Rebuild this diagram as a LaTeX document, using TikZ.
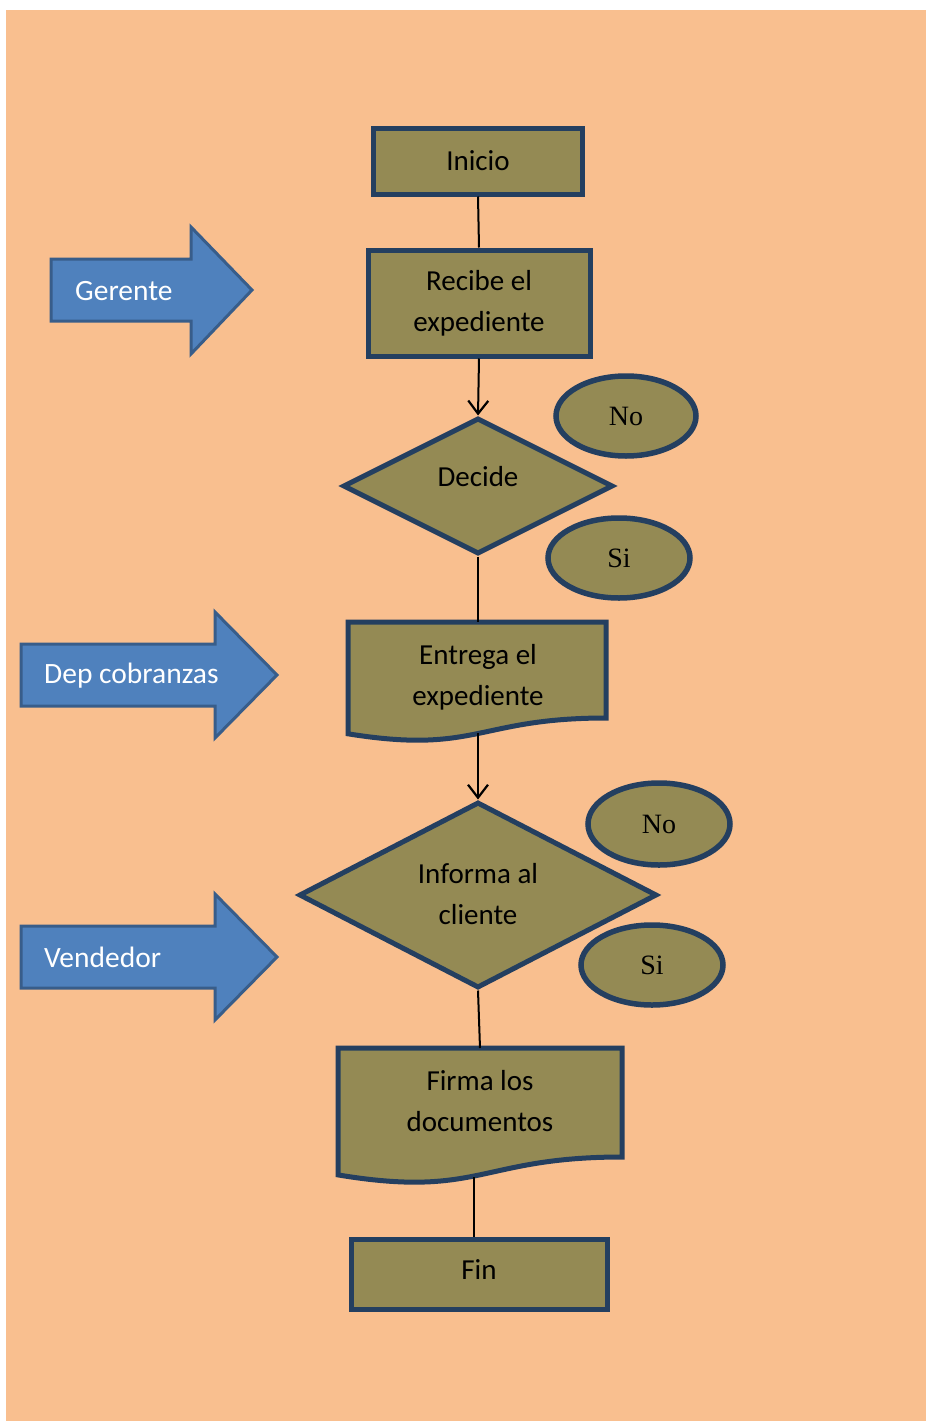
\documentclass[tikz,border=0pt]{standalone}
\usepackage{fontspec}
\setmainfont{Carlito}
\newfontfamily\serifnum{Liberation Serif}
\usetikzlibrary{shapes.geometric,arrows.meta}
\definecolor{pagebg}{RGB}{249,191,143}
\definecolor{olive}{RGB}{148,138,84}
\definecolor{navy}{RGB}{36,63,96}
\definecolor{laneblue}{RGB}{79,129,189}
\definecolor{laneedge}{RGB}{56,93,138}
\tikzset{
  box/.style={rectangle, draw=navy, fill=olive, line width=5pt,
    align=center, font=\fontsize{29}{41}\selectfont},
  decision/.style={diamond, draw=navy, fill=olive, line width=5pt, inner sep=0pt},
  docshape/.style={draw=navy, fill=olive, line width=5pt, line join=miter},
  answer/.style={ellipse, draw=navy, fill=olive, line width=5.5pt, inner sep=0pt,
    font=\serifnum\fontsize{28}{32}\selectfont},
  txt/.style={align=center, font=\fontsize{29}{41}\selectfont, inner sep=0pt},
  lane/.style={draw=laneedge, fill=laneblue, line width=3pt, line join=miter},
  lanetxt/.style={anchor=west, text=white, inner sep=0pt, font=\fontsize{29.5}{34}\selectfont},
  link/.style={draw=black, line width=2pt},
  flow/.style={link, -{Straight Barb[length=13pt,width=20pt,line width=2.2pt]}},
}
\begin{document}
\begin{tikzpicture}[x=1pt, y=-1pt]
  % page and background
  \useasboundingbox (0,0) rectangle (926,1421);
  \fill[white] (0,0) rectangle (926,1421);
  \fill[pagebg] (6,10) rectangle (926,1421);

  % role arrows
  \draw[lane] (51,259) -- (191,259) -- (191,227) -- (252,290) -- (191,354) -- (191,321) -- (51,321) -- cycle;
  \node[lanetxt] (gerente) at (75,291) {Gerente};
  \draw[lane] (21,644) -- (215,644) -- (215,612) -- (277,675) -- (215,738) -- (215,706) -- (21,706) -- cycle;
  \node[lanetxt] (cobranzas) at (44,676) {Dep cobranzas};
  \draw[lane] (21,926) -- (215,926) -- (215,894) -- (277,957) -- (215,1020) -- (215,988) -- (21,988) -- cycle;
  \node[lanetxt] (vendedor) at (44,957) {Vendedor};

  % process boxes
  \node[box, minimum width=209pt, minimum height=66pt] (inicio) at (478,161) {Inicio};
  \node[box, minimum width=222pt, minimum height=106pt] (recibe) at (479,303) {Recibe el\\expediente};
  \node[box, minimum width=256pt, minimum height=70pt] (fin) at (479,1274) {};
  \node[txt] (fintxt) at (479,1270) {Fin};

  % decisions
  \node[decision, minimum width=270pt, minimum height=136pt] (decide) at (478,486) {};
  \node[txt] (decidetxt) at (478,477) {Decide};
  \node[decision, minimum width=358pt, minimum height=186pt] (informa) at (478,895) {};
  \node[txt] (informatxt) at (478,894) {Informa al\\cliente};

  % answers
  \node[answer, minimum width=140pt, minimum height=80pt] (no1) at (626,416) {No};
  \node[answer, minimum width=142pt, minimum height=80pt] (si1) at (619,558) {Si};
  \node[answer, minimum width=142pt, minimum height=82pt] (no2) at (659,824) {No};
  \node[answer, minimum width=142pt, minimum height=80pt] (si2) at (652,965) {Si};

  % document shapes
  \draw[docshape] (348,622) -- (606,622) -- (606,718)
    .. controls (477,718) and (477,754.6) .. (348,733.8) -- cycle;
  \node[txt] (entrega) at (478,677) {Entrega el\\expediente};
  \coordinate (entregaTop) at (478,622);
  \coordinate (entregaBot) at (478,733);

  \draw[docshape] (338,1048) -- (622,1048) -- (622,1157)
    .. controls (480,1157) and (480,1198.5) .. (338,1174.9) -- cycle;
  \node[txt] (firma) at (480,1101) {Firma los\\documentos};
  \coordinate (firmaTop) at (480,1048);
  \coordinate (firmaBot) at (474,1177);

  % connectors
  \draw[link] (inicio.south) -- (recibe.north);
  \draw[flow] (recibe.south) -- (decide.north);
  \draw[link] (decide.south) -- (entregaTop);
  \draw[flow] (entregaBot) -- (informa.north);
  \draw[link] (informa.south) -- (firmaTop);
  \draw[link] (firmaBot) -- (fin.north -| firmaBot);
\end{tikzpicture}
\end{document}
